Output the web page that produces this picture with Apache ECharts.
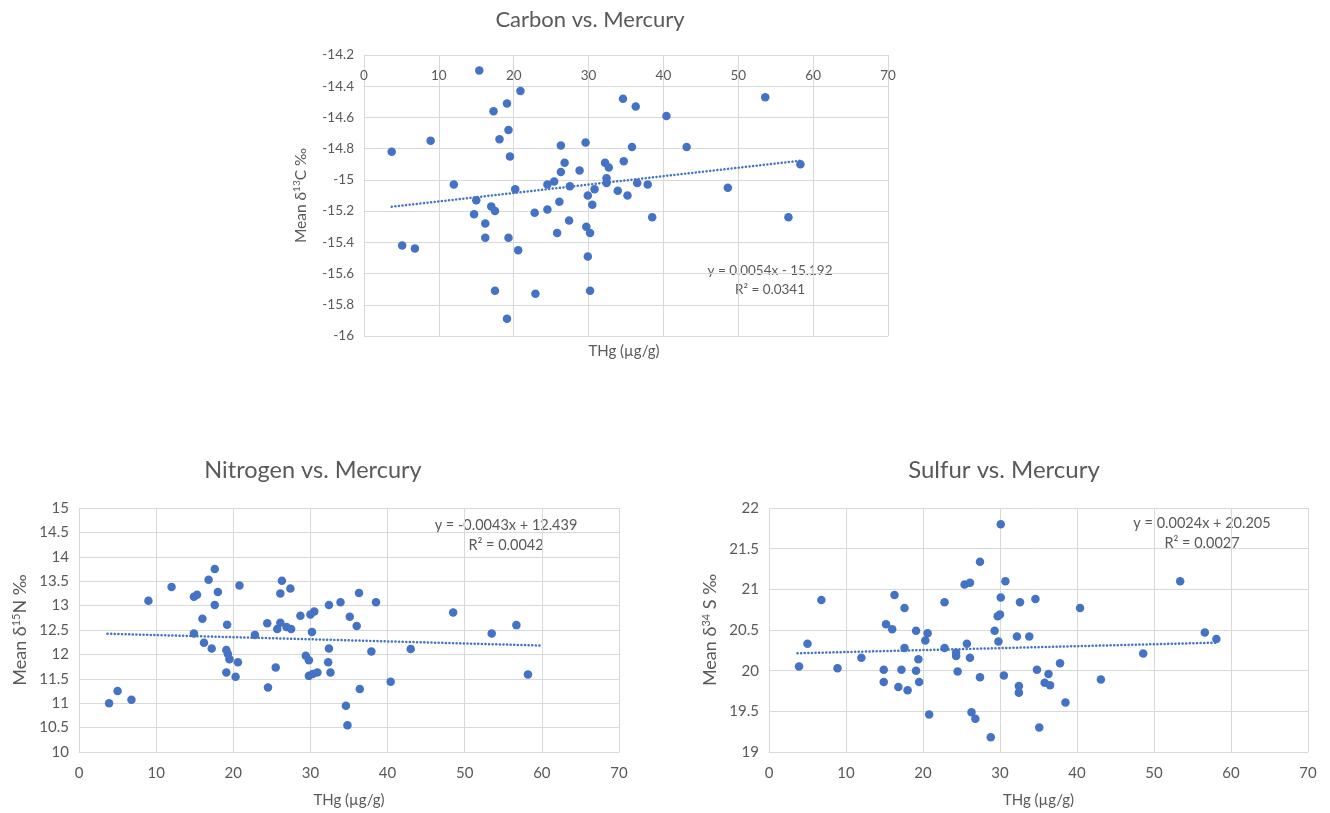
<!DOCTYPE html>
<html>
<head>
<meta charset="utf-8">
<script src="https://cdn.jsdelivr.net/npm/echarts@6/dist/echarts.min.js"></script>
<style>
  html, body { margin: 0; padding: 0; background: #fff; }
  #chart { width: 1330px; height: 813px; }
</style>
</head>
<body>
<div id="chart"></div>
<script>
// THg (µg/g) vs. isotope means
const carbonX = [3.7, 8.9, 5.1, 6.8, 12.0, 15.4, 20.9, 17.3, 19.1, 19.3, 18.1, 19.5, 15.0, 14.7, 17.0, 17.5,
    16.2, 16.2, 19.3, 20.2, 20.6, 17.5, 22.9, 19.1, 22.8, 24.5, 24.5, 25.4, 26.1, 25.8, 26.3, 26.8,
    26.3, 27.5, 27.4, 28.8, 29.6, 29.9, 30.8, 30.5, 29.7, 30.2, 29.9, 30.2, 32.2, 32.7, 32.4, 32.4,
    33.9, 35.2, 34.7, 34.6, 35.8, 36.3, 36.5, 37.9, 38.5, 40.4, 43.1, 48.6, 53.6, 56.7, 58.3];
const carbonY = [-14.82, -14.75, -15.42, -15.44, -15.03, -14.30, -14.43, -14.56, -14.51, -14.68, -14.74, -14.85,
    -15.13, -15.22, -15.17, -15.20, -15.28, -15.37, -15.37, -15.06, -15.45, -15.71, -15.73, -15.89,
    -15.21, -15.19, -15.03, -15.01, -15.14, -15.34, -14.95, -14.89, -14.78, -15.04, -15.26, -14.94,
    -14.76, -15.10, -15.06, -15.16, -15.30, -15.34, -15.49, -15.71, -14.89, -14.92, -14.99, -15.02,
    -15.07, -15.10, -14.88, -14.48, -14.79, -14.53, -15.02, -15.03, -15.24, -14.59, -14.79, -15.05,
    -14.47, -15.24, -14.90];

const nitrogenX = [3.9, 5.0, 6.8, 9.0, 12.0, 14.9, 15.3, 16.8, 17.6, 18.0, 17.6, 16.0, 14.9, 16.2, 17.2, 19.2,
    19.1, 19.3, 19.5, 20.6, 19.1, 20.3, 20.8, 22.8, 24.4, 25.5, 24.5, 26.3, 26.1, 27.4, 25.7, 26.1,
    26.9, 27.5, 28.7, 30.0, 30.5, 30.2, 29.4, 29.8, 29.8, 30.3, 30.9, 32.4, 33.9, 32.4, 32.3, 32.6,
    36.3, 38.5, 35.1, 36.0, 37.9, 36.4, 34.6, 34.8, 40.4, 43.0, 48.5, 53.5, 56.7, 58.2];
const nitrogenY = [11.00, 11.25, 11.07, 13.10, 13.38, 13.18, 13.22, 13.53, 13.75, 13.28, 13.01, 12.73, 12.43,
    12.24, 12.12, 12.61, 12.09, 12.01, 11.90, 11.84, 11.63, 11.54, 13.41, 12.40, 12.64, 11.73, 11.32,
    13.51, 13.25, 13.35, 12.52, 12.65, 12.56, 12.52, 12.79, 12.82, 12.88, 12.46, 11.97, 11.88, 11.56,
    11.60, 11.63, 13.01, 13.07, 12.12, 11.84, 11.63, 13.26, 13.07, 12.77, 12.58, 12.06, 11.29, 10.95,
    10.55, 11.44, 12.11, 12.86, 12.43, 12.60, 11.59];

const sulfurX = [3.9, 5.0, 6.8, 8.9, 12.0, 14.9, 14.9, 15.2, 16.0, 16.3, 17.6, 17.6, 17.2, 16.8, 18.0, 19.1,
    20.6, 20.3, 19.4, 19.1, 19.5, 20.8, 22.8, 22.8, 24.3, 24.3, 24.5, 25.7, 26.1, 25.4, 26.1, 27.4,
    27.4, 26.3, 26.8, 28.8, 30.1, 30.7, 30.1, 29.7, 30.0, 29.3, 29.8, 30.5, 32.6, 34.6, 32.2, 33.8,
    32.45, 32.45, 34.8, 36.3, 35.8, 36.5, 37.8, 38.5, 35.1, 40.4, 43.1, 48.6, 53.4, 56.6, 58.1];
const sulfurY = [20.05, 20.33, 20.87, 20.03, 20.16, 20.01, 19.86, 20.57, 20.51, 20.93, 20.77, 20.28, 20.01,
    19.80, 19.76, 20.49, 20.46, 20.37, 20.14, 20.00, 19.86, 19.46, 20.84, 20.28, 20.22, 20.18, 19.99,
    20.33, 20.16, 21.06, 21.08, 21.34, 19.92, 19.49, 19.41, 19.18, 21.80, 21.10, 20.90, 20.67, 20.69,
    20.49, 20.36, 19.94, 20.84, 20.88, 20.42, 20.42, 19.81, 19.73, 20.01, 19.96, 19.85, 19.82, 20.09,
    19.61, 19.30, 20.77, 19.89, 20.21, 21.10, 20.47, 20.39];

// linear trendlines as printed on the charts: [slope, intercept, xStart, xEnd]
const carbonFit = [0.0054, -15.192, 3.7, 58.3];
const nitrogenFit = [-0.0043, 12.439, 3.7, 59.8];
const sulfurFit = [0.0024, 20.205, 3.7, 58.1];

const titles = ["Carbon vs. Mercury", "Nitrogen vs. Mercury", "Sulfur vs. Mercury"];
const xName = "THg (µg/g)";

const blue = "#4472C4";
const textColor = "#595959";
const gridColor = "#D9D9D9";
const font = "Lato, 'Open Sans', sans-serif";

const zip = (xs, ys) => xs.map((x, i) => [x, ys[i]]);
const fitLine = (f) => [[f[2], f[0] * f[2] + f[1]], [f[3], f[0] * f[3] + f[1]]];

const chart = echarts.init(document.getElementById("chart"));

const xAxisBase = {
    type: "value",
    min: 0,
    max: 70,
    interval: 10,
    axisLine: { show: true, lineStyle: { color: gridColor } },
    axisTick: { show: false },
    splitLine: { show: true, lineStyle: { color: gridColor } },
    axisLabel: { color: textColor, fontFamily: font, fontSize: 15 },
};

const yAxisBase = {
    type: "value",
    axisLine: { show: false },
    axisTick: { show: false },
    splitLine: { show: true, lineStyle: { color: gridColor } },
    axisLabel: { color: textColor, fontFamily: font, fontSize: 15, margin: 10 },
    nameLocation: "middle",
    nameRotate: 90,
};

const yName = (iso, el, size) => ({
    name: "{a|Mean δ}{s|" + iso + "}{a|" + el + " ‰}",
    nameTextStyle: {
        rich: {
            a: { color: textColor, fontFamily: font, fontSize: size },
            s: { color: textColor, fontFamily: font, fontSize: Math.round(size * 0.62), verticalAlign: "top", padding: [0, 0, 7, 0] },
        },
    },
});

const scatter = (i, data) => ({
    type: "scatter",
    xAxisIndex: i,
    yAxisIndex: i,
    symbolSize: 8.5,
    itemStyle: { color: blue, opacity: 1 },
    data: data,
});

const trend = (i, f) => ({
    type: "line",
    xAxisIndex: i,
    yAxisIndex: i,
    symbol: "none",
    silent: true,
    lineStyle: { color: blue, width: 2.5, type: [0.1, 3.5], cap: "round" },
    data: fitLine(f),
});

const label = (x, y, text, size) => ({
    type: "text",
    x: x,
    y: y,
    style: {
        text: text,
        fill: textColor,
        font: size + "px " + font,
        textAlign: "center",
        textVerticalAlign: "middle",
    },
});

const xNameStyle = { color: textColor, fontFamily: font, fontSize: 15 };

const option = {
    animation: false,
    grid: [
        { left: 364, top: 55, width: 524, height: 281, outerBoundsMode: "none" },
        { left: 79, top: 508, width: 540, height: 244, outerBoundsMode: "none" },
        { left: 769, top: 508, width: 539, height: 244, outerBoundsMode: "none" },
    ],
    xAxis: [
        {
            ...xAxisBase,
            gridIndex: 0,
            position: "top",
            axisLabel: { ...xAxisBase.axisLabel, fontSize: 13.5, inside: true, margin: 14 },
        },
        { ...xAxisBase, gridIndex: 1, name: xName, nameLocation: "middle", nameGap: 41,
          nameTextStyle: xNameStyle, axisLabel: { ...xAxisBase.axisLabel, margin: 14 } },
        { ...xAxisBase, gridIndex: 2, name: xName, nameLocation: "middle", nameGap: 41,
          nameTextStyle: xNameStyle, axisLabel: { ...xAxisBase.axisLabel, margin: 14 } },
    ],
    yAxis: [
        { ...yAxisBase, gridIndex: 0, min: -16, max: -14.2, interval: 0.2, nameGap: 55,
          axisLabel: { ...yAxisBase.axisLabel, fontSize: 13.5 }, ...yName("13", "C", 15.5) },
        { ...yAxisBase, gridIndex: 1, min: 10, max: 15, interval: 0.5, nameGap: 50, ...yName("15", "N", 18) },
        { ...yAxisBase, gridIndex: 2, min: 19, max: 22, interval: 0.5, nameGap: 50, ...yName("34", " S", 18) },
    ],
    series: [
        scatter(0, zip(carbonX, carbonY)),
        trend(0, carbonFit),
        scatter(1, zip(nitrogenX, nitrogenY)),
        trend(1, nitrogenFit),
        scatter(2, zip(sulfurX, sulfurY)),
        trend(2, sulfurFit),
    ],
    graphic: [
        label(590, 20, titles[0], 22),
        label(313, 470, titles[1], 23.5),
        label(1004, 470, titles[2], 24),
        label(624, 351, xName, 15),
        label(770, 271, "y = 0.0054x - 15.192", 13.5),
        label(770, 290, "R² = 0.0341", 13.5),
        label(506, 525, "y = -0.0043x + 12.439", 14.5),
        label(506, 545, "R² = 0.0042", 14.5),
        label(1202, 523, "y = 0.0024x + 20.205", 14.5),
        label(1202, 543, "R² = 0.0027", 14.5),
    ],
};

chart.setOption(option);
</script>
</body>
</html>
